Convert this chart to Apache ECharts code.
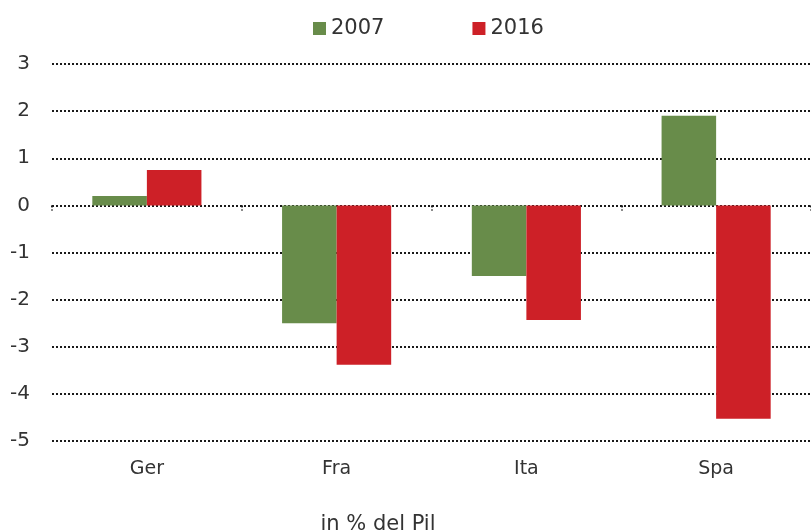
<!DOCTYPE html>
<html>
<head>
<meta charset="utf-8">
<script src="https://cdn.jsdelivr.net/npm/echarts@6/dist/echarts.min.js"></script>
<style>
    html, body { margin: 0; padding: 0; background: #fff; }
    #chart { width: 811px; height: 531px; }
</style>
</head>
<body>
<div id="chart"></div>
<script>
    var categories = ['Ger', 'Fra', 'Ita', 'Spa']
    var values2007 = [0.2, -2.5, -1.5, 1.9]
    var values2016 = [0.75, -3.38, -2.43, -4.53]
    var yTicks = [-5, -4, -3, -2, -1, 0, 1, 2, 3]

    var font = 'DejaVu Sans, sans-serif'
    var dotted = { color: '#1a1a1a', width: 2, type: [2, 2] }

    var myChart = echarts.init(document.getElementById('chart'))
    var option = {
        animation: false,
        textStyle: { fontFamily: font },
        legend: {
            left: 308,
            top: 13,
            itemWidth: 13,
            itemHeight: 13,
            itemGap: 88,
            icon: 'rect',
            textStyle: { fontSize: 21, color: '#333', fontFamily: font },
            data: ['2007', '2016']
        },
        title: {
            text: 'in % del Pil',
            left: 373,
            top: 509,
            textAlign: 'center',
            textStyle: { fontSize: 21, fontWeight: 'normal', color: '#333', fontFamily: font }
        },
        grid: { left: 52, right: -1, top: 64, bottom: 90 },
        xAxis: [{
            type: 'category',
            data: categories,
            position: 'bottom',
            axisLine: { show: false, onZero: false },
            axisTick: { show: false },
            axisLabel: { color: '#333', fontSize: 19, margin: 19, fontFamily: font }
        }, {
            type: 'category',
            data: categories,
            position: 'bottom',
            // only the little ticks on the zero line, the line itself is the split line
            axisLine: { show: true, onZero: true, lineStyle: { opacity: 0 } },
            axisTick: { show: true, length: 5, inside: false, lineStyle: { color: '#1a1a1a', width: 2, type: [2, 2] } },
            axisLabel: { show: false }
        }],
        yAxis: {
            type: 'value',
            min: yTicks[0],
            max: yTicks[yTicks.length - 1],
            interval: 1,
            axisLine: { show: false },
            axisTick: { show: false },
            axisLabel: { color: '#333', fontSize: 20, margin: 22, fontFamily: font },
            splitLine: { show: true, lineStyle: dotted }
        },
        series: [{
            name: '2007',
            type: 'bar',
            data: values2007,
            barGap: '0%',
            barCategoryGap: '42.5%',
            itemStyle: { color: '#688c4a' }
        }, {
            name: '2016',
            type: 'bar',
            data: values2016,
            barGap: '0%',
            barCategoryGap: '42.5%',
            itemStyle: { color: '#cd2027' }
        }]
    }
    myChart.setOption(option)
</script>
</body>
</html>
